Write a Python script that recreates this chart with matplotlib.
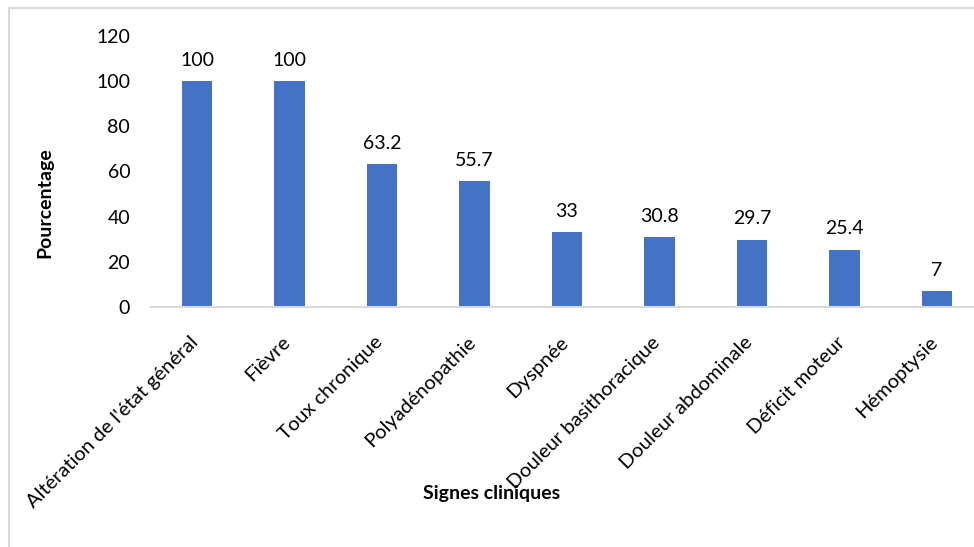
import matplotlib.pyplot as plt
from matplotlib.patches import Rectangle
from matplotlib.transforms import ScaledTranslation

# signes cliniques (% des patients)
signes = ["Altération de l'état général", "Fièvre", "Toux chronique",
          "Polyadénopathie", "Dyspnée", "Douleur basithoracique",
          "Douleur abdominale", "Déficit moteur", "Hémoptysie"]
pourcentages = [100, 100, 63.2, 55.7, 33, 30.8, 29.7, 25.4, 7]
etiquettes = ["100", "100", "63.2", "55.7", "33", "30.8", "29.7", "25.4", "7"]

plt.rcParams['font.family'] = ['Lato', 'DejaVu Sans']
fs = 14

W, H = 974, 547
fig = plt.figure(figsize=(W / 100, H / 100), dpi=100)

# axes: x from 151 to 983 px, y from 36 to 307 px
left, right, top, bottom = 151, 983, 36, 307
ax = fig.add_axes([left / W, 1 - bottom / H, (right - left) / W, (bottom - top) / H])

x = list(range(len(signes)))
ax.bar(x, pourcentages, width=0.33, color='#4472C4')
for xi, v, lab in zip(x, pourcentages, etiquettes):
    ax.annotate(lab, (xi, v), xytext=(0, 9), textcoords='offset points',
                ha='center', va='bottom', fontsize=fs, color='#000000')

ax.set_xlim(-0.5, len(signes) - 0.5)
ax.set_ylim(0, 120)
ax.set_yticks(range(0, 121, 20))
ax.tick_params(axis='y', length=0, labelsize=fs, pad=15)
ax.tick_params(axis='x', length=0, labelsize=14.5, pad=14)
ax.set_xticks(x)
ax.set_xticklabels(signes, rotation=45, ha='right', rotation_mode='anchor')
decal = ScaledTranslation(-0.08, -0.07, fig.dpi_scale_trans)
for t in ax.get_xticklabels():
    t.set_transform(t.get_transform() + decal)

for s in ['top', 'right', 'left']:
    ax.spines[s].set_visible(False)
ax.spines['bottom'].set_color('#d9d9d9')
ax.spines['bottom'].set_linewidth(1.5)

fig.text(45 / W, 1 - 203 / H, "Pourcentage", rotation=90, ha='center', va='center',
         fontsize=fs, fontweight='bold')
fig.text(492 / W, 1 - 493 / H, "Signes cliniques", ha='center', va='center',
         fontsize=fs, fontweight='bold')

# cadre du graphique
fig.add_artist(Rectangle((9 / W, -0.1), 1.2, 1 - 8 / H + 0.1, transform=fig.transFigure,
                         fill=False, edgecolor='#d9d9d9', linewidth=1.5))

fig.savefig("out.png", dpi=100)
